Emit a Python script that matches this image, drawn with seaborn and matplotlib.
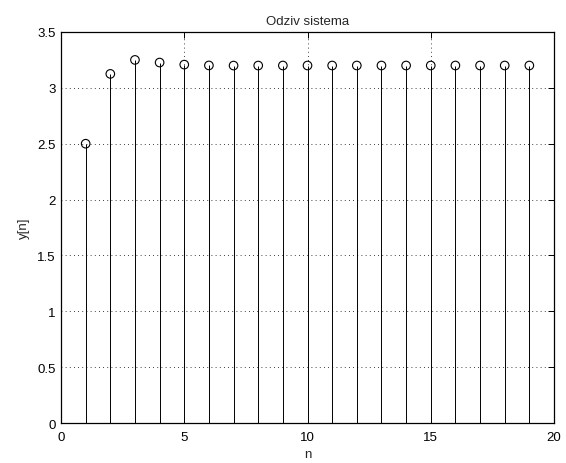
import matplotlib
matplotlib.use("Agg")
import matplotlib.pyplot as plt
import seaborn as sns
import pandas as pd
import numpy as np

n_values = [1, 2, 3, 4, 5, 6, 7, 8, 9, 10, 11, 12, 13, 14, 15, 16, 17, 18, 19]
y_values = [2.5, 3.125, 3.25, 3.2266, 3.208, 3.2007, 3.1995, 3.1997, 3.2, 3.2,
            3.2, 3.2, 3.2, 3.2, 3.2, 3.2, 3.2, 3.2, 3.2]
x_ticks = [0, 5, 10, 15, 20]
y_ticks = [0, 0.5, 1, 1.5, 2, 2.5, 3, 3.5]

sns.set_style("white")
plt.rcParams['font.family'] = ['Liberation Sans', 'DejaVu Sans']

df = pd.DataFrame({"n": n_values, "y": y_values})

fig = plt.figure(figsize=(5.66, 4.64), dpi=100)
ax = fig.add_axes([0.1078, 0.0862, 0.8710, 0.8427])

ax.vlines(df["n"], 0, df["y"], colors="black", linewidth=0.7, zorder=3)
sns.scatterplot(data=df, x="n", y="y", ax=ax, marker="o", s=38,
                facecolor="none", edgecolor="black", linewidth=0.8, zorder=4)

ax.set_xlim(0, 20)
ax.set_ylim(0, 3.5)
ax.set_xticks(x_ticks)
ax.set_yticks(y_ticks)
ax.set_xticklabels([str(t) for t in x_ticks])
ax.set_yticklabels(["0", "0.5", "1", "1.5", "2", "2.5", "3", "3.5"])
ax.grid(True, linestyle=(0, (1, 4)), color="black", linewidth=0.6)
ax.tick_params(direction="in", length=4, width=0.7, top=True, right=True,
               labelsize=9.5, colors="black")
ax.tick_params(axis="x", pad=6)
ax.tick_params(axis="y", pad=4)
for s in ax.spines.values():
    s.set_color("black")
    s.set_linewidth(0.9)

ax.set_title("Odziv sistema", fontsize=9.5, pad=6)
ax.set_xlabel("n", fontsize=9.5, labelpad=3)
ax.set_ylabel("y[n]", fontsize=9.5, labelpad=5)

fig.savefig("out.png", dpi=100, facecolor="white")
